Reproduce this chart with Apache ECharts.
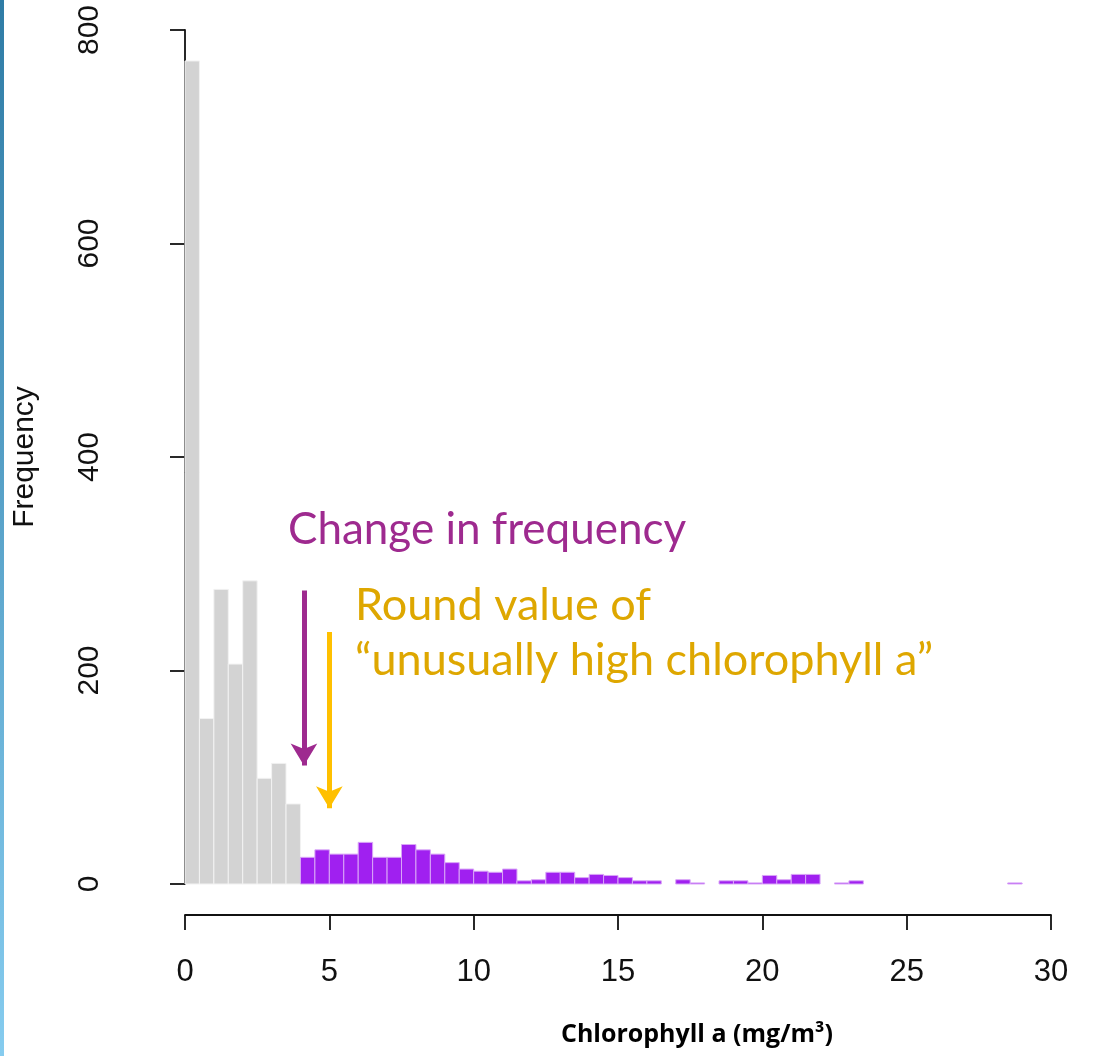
<!DOCTYPE html>
<html>
<head>
<meta charset="utf-8">
<style>
  html, body { margin: 0; padding: 0; background: #ffffff; }
  #chart { width: 1099px; height: 1056px; }
</style>
<script src="https://cdn.jsdelivr.net/npm/echarts@6/dist/echarts.min.js"></script>
</head>
<body>
<div id="chart"></div>
<script>
// Histogram of chlorophyll a concentrations, 0.5 mg/m3 bins
const binWidth = 0.5;

// Bins below the change in frequency (drawn grey)
const lowBinStarts = [0, 0.5, 1, 1.5, 2, 2.5, 3, 3.5];
const lowCounts    = [771, 155, 276, 206, 284, 99, 113, 75];

// Bins from 4 mg/m3 upward (drawn purple)
const highBinStarts = [4, 4.5, 5, 5.5, 6, 6.5, 7, 7.5, 8, 8.5, 9, 9.5, 10, 10.5, 11, 11.5,
  12, 12.5, 13, 13.5, 14, 14.5, 15, 15.5, 16, 16.5, 17, 17.5, 18, 18.5, 19, 19.5,
  20, 20.5, 21, 21.5, 22, 22.5, 23, 23.5, 24, 24.5, 25, 25.5, 26, 26.5, 27, 27.5, 28, 28.5];
const highCounts    = [25, 32, 28, 28, 39, 25, 25, 37, 32, 28, 20, 14, 12, 11, 14, 3,
  4, 11, 11, 6, 9, 8, 6, 3, 3, 0, 4, 1, 0, 3, 3, 1,
  8, 4, 9, 9, 0, 1, 3, 0, 0, 0, 0, 0, 0, 0, 0, 0, 0, 1];

const xTicks = { min: 0, max: 30, step: 5 };
const yTicks = { min: 0, max: 800, step: 200 };

// Annotation arrows: [x, yStart, yEnd] in data units
const changeArrow = [4.12, 275, 111];
const roundArrow  = [5.0, 236, 71];

const pairs = (starts, counts) => starts.map((s, i) => [s, counts[i]]);

function histBar(fill, stroke) {
  return function (params, api) {
    const x0 = api.value(0);
    const count = api.value(1);
    if (!count) return null;
    const a = api.coord([x0, 0]);
    const b = api.coord([x0 + binWidth, count]);
    return {
      type: 'rect',
      shape: { x: a[0], y: b[1], width: b[0] - a[0], height: a[1] - b[1] },
      style: { fill: fill, stroke: stroke, lineWidth: 1 }
    };
  };
}

const chart = echarts.init(document.getElementById('chart'), null, { renderer: 'canvas' });

const axisFont = 'Liberation Sans, Arial, Helvetica, sans-serif';
const noteFont = 'Lato, "Open Sans", sans-serif';

chart.setOption({
  animation: false,
  backgroundColor: '#ffffff',
  grid: { left: 185, right: 48, top: 30, bottom: 172, containLabel: false },
  xAxis: {
    type: 'value',
    min: xTicks.min, max: xTicks.max, interval: xTicks.step,
    offset: 31,
    axisLine: { show: true, onZero: false, lineStyle: { color: '#111', width: 1.8 } },
    axisTick: { show: true, length: 15, lineStyle: { color: '#111', width: 1.8 } },
    axisLabel: { show: true, margin: 42, color: '#111', fontSize: 31, fontFamily: axisFont },
    splitLine: { show: false }
  },
  yAxis: {
    type: 'value',
    min: yTicks.min, max: yTicks.max, interval: yTicks.step,
    offset: 42,
    name: 'Frequency',
    nameLocation: 'middle',
    nameGap: 103,
    nameRotate: 90,
    nameTextStyle: { color: '#111', fontSize: 30, fontFamily: axisFont },
    axisLine: { show: true, lineStyle: { color: '#111', width: 1.8 } },
    axisTick: { show: true, length: 15, lineStyle: { color: '#111', width: 1.8 } },
    axisLabel: { show: true, rotate: 90, margin: 38, color: '#111', fontSize: 30, fontFamily: axisFont },
    splitLine: { show: false }
  },
  series: [
    {
      type: 'custom',
      name: 'low',
      renderItem: histBar('#d3d3d3', '#f2f2f2'),
      encode: { x: 0, y: 1 },
      data: pairs(lowBinStarts, lowCounts),
      clip: false
    },
    {
      type: 'custom',
      name: 'high',
      renderItem: histBar('#a020f0', '#d9a6f7'),
      encode: { x: 0, y: 1 },
      data: pairs(highBinStarts, highCounts),
      clip: false
    },
    {
      type: 'line',
      name: 'arrows',
      data: [],
      silent: true,
      markLine: {
        silent: true,
        symbol: ['none', 'arrow'],
        symbolSize: [20, 22],
        label: { show: false },
        emphasis: { disabled: true },
        data: [
          [
            { coord: [changeArrow[0], changeArrow[1]], lineStyle: { color: '#9e2a8f', width: 5, type: 'solid' } },
            { coord: [changeArrow[0], changeArrow[2]] }
          ],
          [
            { coord: [roundArrow[0], roundArrow[1]], lineStyle: { color: '#ffc000', width: 5, type: 'solid' } },
            { coord: [roundArrow[0], roundArrow[2]] }
          ]
        ]
      }
    }
  ],
  graphic: [
    {
      type: 'rect',
      left: 0, top: 0,
      shape: { width: 4, height: 1056 },
      style: {
        fill: new echarts.graphic.LinearGradient(0, 0, 0, 1, [
          { offset: 0, color: '#2f7ca6' },
          { offset: 1, color: '#86ccef' }
        ])
      },
      silent: true
    },
    {
      type: 'text',
      x: 288, y: 530,
      style: { text: 'Change in frequency', fill: '#9e2a8f', font: '44px ' + noteFont, textVerticalAlign: 'middle' },
      silent: true
    },
    {
      type: 'text',
      x: 355, y: 605,
      style: { text: 'Round value of', fill: '#dea700', font: '45px ' + noteFont, textVerticalAlign: 'middle' },
      silent: true
    },
    {
      type: 'text',
      x: 355, y: 660,
      style: { text: '\u201Cunusually high chlorophyll a\u201D', fill: '#dea700', font: '45px ' + noteFont, textVerticalAlign: 'middle' },
      silent: true
    },
    {
      type: 'text',
      x: 697, y: 1035,
      style: { text: 'Chlorophyll a (mg/m\u00B3)', fill: '#000', font: 'bold 25px "Open Sans", sans-serif', textAlign: 'center', textVerticalAlign: 'middle' },
      silent: true
    }
  ]
});
</script>
</body>
</html>
